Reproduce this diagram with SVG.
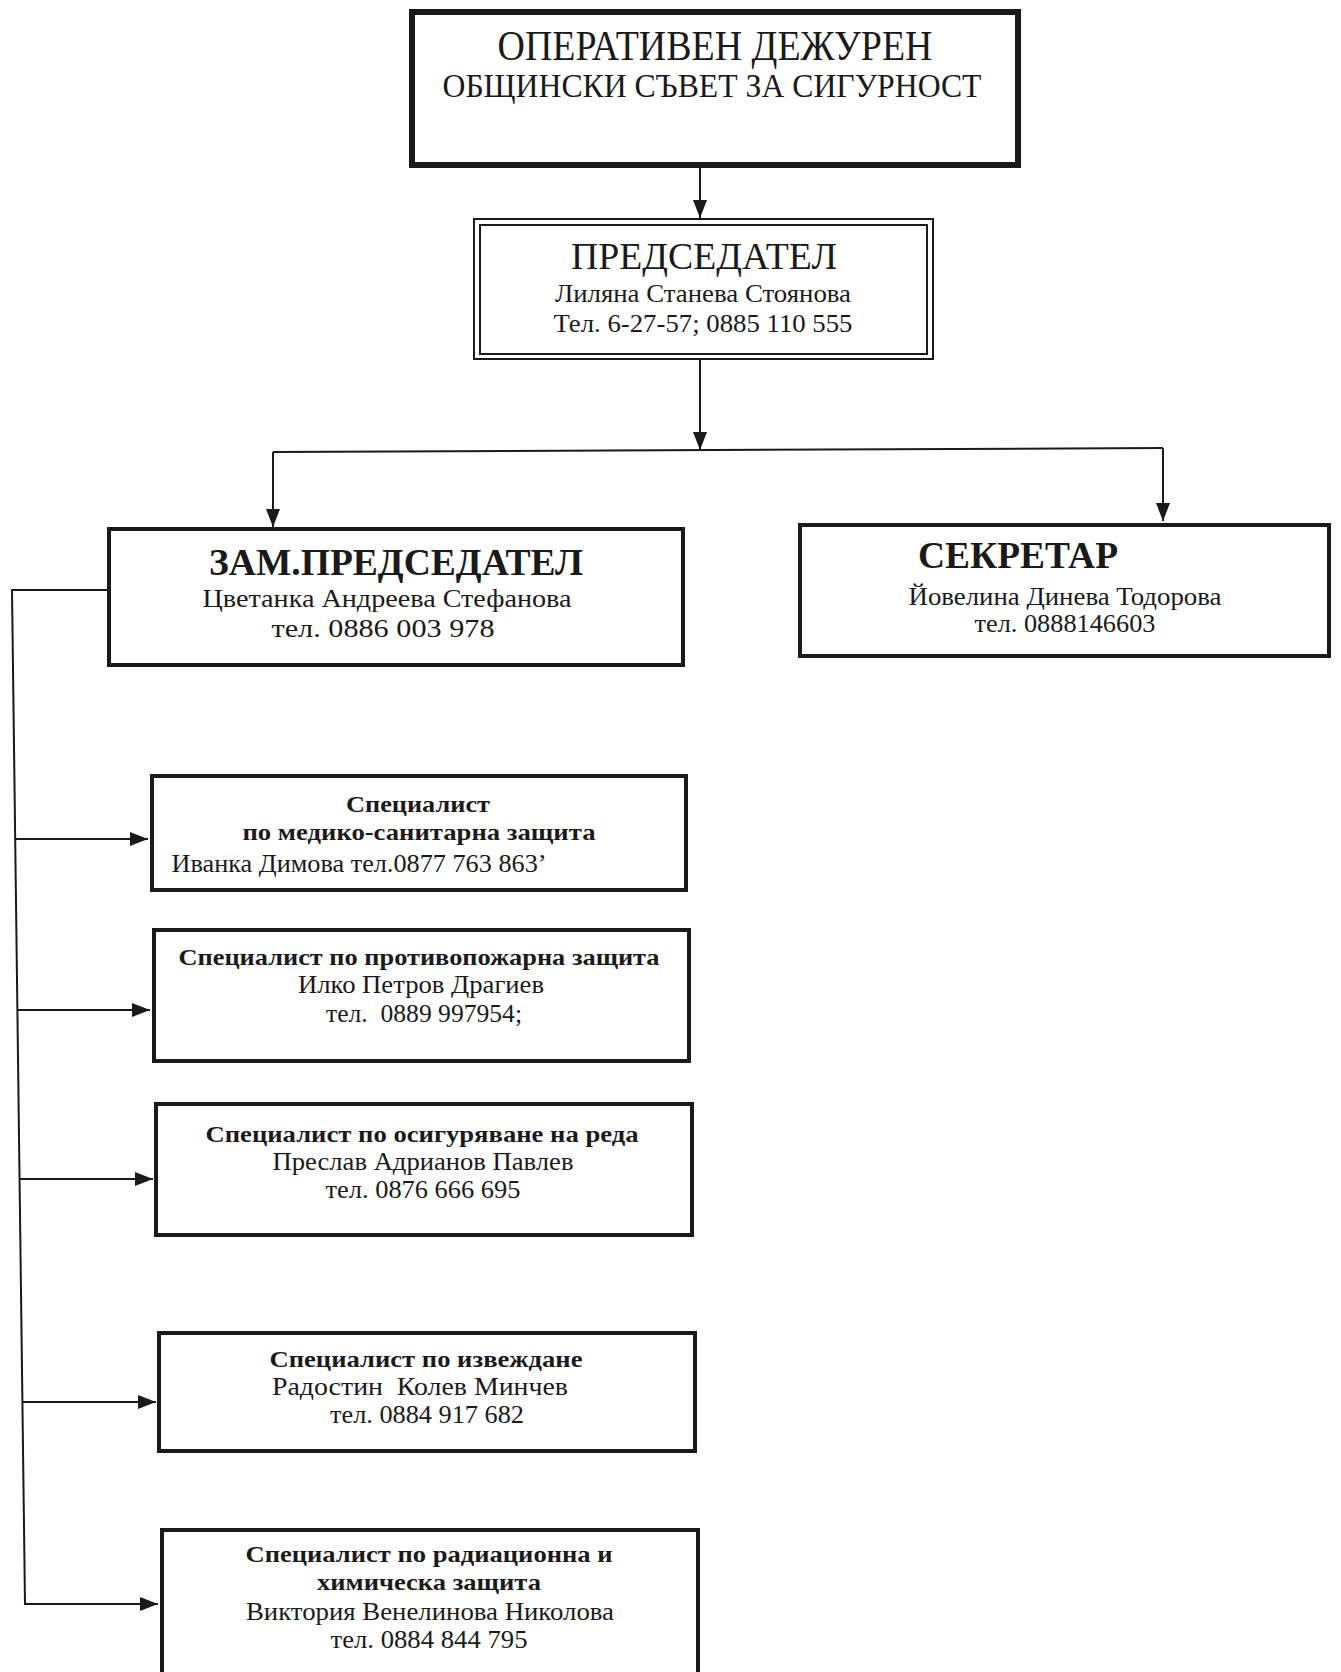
<svg xmlns="http://www.w3.org/2000/svg" width="1341" height="1672" viewBox="0 0 1341 1672">
<style>
text{font-family:"Liberation Serif","Times New Roman",serif;fill:#1a1a1a;text-anchor:middle}
.b{font-weight:bold}
.box{fill:none;stroke:#1a1a1a;stroke-width:4}
.con{fill:none;stroke:#1a1a1a;stroke-width:2}
</style>
<defs>
<marker id="ah" markerUnits="userSpaceOnUse" markerWidth="18" markerHeight="14" refX="18" refY="7" orient="auto">
<path d="M0,0 L18,7 L0,14 z" fill="#1a1a1a"/>
</marker>
</defs>
<rect width="1341" height="1672" fill="#ffffff"/>
<g id="connectors">
<path class="con" d="M700,168 V218" marker-end="url(#ah)"/>
<path class="con" d="M700,360 V450" marker-end="url(#ah)"/>
<path class="con" d="M273,452 L1163,448"/>
<path class="con" d="M273,452 V527" marker-end="url(#ah)"/>
<path class="con" d="M1163,448 V521" marker-end="url(#ah)"/>
<path class="con" d="M107,590 H12 L25,1604 H158" marker-end="url(#ah)"/>
<path class="con" d="M15,839 H148" marker-end="url(#ah)"/>
<path class="con" d="M17,1010 H150" marker-end="url(#ah)"/>
<path class="con" d="M19,1179 H153" marker-end="url(#ah)"/>
<path class="con" d="M22,1402 H156" marker-end="url(#ah)"/>
</g>
<g id="node-operative">
<rect x="412" y="12" width="606" height="153" fill="none" stroke="#1a1a1a" stroke-width="6"/>
<text x="715" y="60" font-size="42" textLength="435" lengthAdjust="spacingAndGlyphs">ОПЕРАТИВЕН ДЕЖУРЕН</text>
<text x="712" y="97" font-size="34" textLength="539" lengthAdjust="spacingAndGlyphs">ОБЩИНСКИ СЪВЕТ ЗА СИГУРНОСТ</text>
</g>
<g id="node-chairman">
<rect x="474" y="219" width="459" height="140" fill="none" stroke="#1a1a1a" stroke-width="2"/>
<rect x="480" y="225" width="447" height="129" fill="none" stroke="#1a1a1a" stroke-width="2"/>
<text x="704" y="269" font-size="38" textLength="266" lengthAdjust="spacingAndGlyphs">ПРЕДСЕДАТЕЛ</text>
<text x="703" y="302" font-size="26" textLength="296" lengthAdjust="spacingAndGlyphs">Лиляна Станева Стоянова</text>
<text x="703" y="332" font-size="26" textLength="299" lengthAdjust="spacingAndGlyphs">Тел. 6-27-57; 0885 110 555</text>
</g>
<g id="node-deputy">
<rect class="box" x="109" y="529" width="574" height="136"/>
<text class="b" x="396" y="575" font-size="37" textLength="374" lengthAdjust="spacingAndGlyphs">ЗАМ.ПРЕДСЕДАТЕЛ</text>
<text x="387" y="607" font-size="26" textLength="369" lengthAdjust="spacingAndGlyphs">Цветанка Андреева Стефанова</text>
<text x="383" y="637" font-size="26" textLength="223" lengthAdjust="spacingAndGlyphs">тел. 0886 003 978</text>
</g>
<g id="node-secretary">
<rect class="box" x="800" y="525" width="529" height="131"/>
<text class="b" x="1018" y="568" font-size="37" textLength="200" lengthAdjust="spacingAndGlyphs">СЕКРЕТАР</text>
<text x="1065" y="605" font-size="26" textLength="313" lengthAdjust="spacingAndGlyphs">Йовелина Динева Тодорова</text>
<text x="1065" y="632" font-size="26" textLength="181" lengthAdjust="spacingAndGlyphs">тел. 0888146603</text>
</g>
<g id="node-medical">
<rect class="box" x="152" y="776" width="534" height="114"/>
<text class="b" x="418" y="812" font-size="24" textLength="144" lengthAdjust="spacingAndGlyphs">Специалист</text>
<text class="b" x="419" y="840" font-size="24" textLength="353" lengthAdjust="spacingAndGlyphs">по медико-санитарна защита</text>
<text x="359" y="872" font-size="25" textLength="375" lengthAdjust="spacingAndGlyphs">Иванка Димова тел.0877 763 863ʼ</text>
</g>
<g id="node-fire">
<rect class="box" x="154" y="930" width="535" height="131"/>
<text class="b" x="419" y="965" font-size="24" textLength="481" lengthAdjust="spacingAndGlyphs">Специалист по противопожарна защита</text>
<text x="421" y="993" font-size="25" textLength="246" lengthAdjust="spacingAndGlyphs">Илко Петров Драгиев</text>
<text x="424" y="1022" font-size="25" textLength="196" lengthAdjust="spacingAndGlyphs" xml:space="preserve">тел.  0889 997954;</text>
</g>
<g id="node-order">
<rect class="box" x="156" y="1104" width="536" height="131"/>
<text class="b" x="422" y="1142" font-size="24" textLength="433" lengthAdjust="spacingAndGlyphs">Специалист по осигуряване на реда</text>
<text x="423" y="1170" font-size="25" textLength="301" lengthAdjust="spacingAndGlyphs">Преслав Адрианов Павлев</text>
<text x="423" y="1198" font-size="25" textLength="195" lengthAdjust="spacingAndGlyphs">тел. 0876 666 695</text>
</g>
<g id="node-evacuation">
<rect class="box" x="159" y="1333" width="536" height="118"/>
<text class="b" x="426" y="1367" font-size="24" textLength="313" lengthAdjust="spacingAndGlyphs">Специалист по извеждане</text>
<text x="420" y="1395" font-size="25" textLength="296" lengthAdjust="spacingAndGlyphs" xml:space="preserve">Радостин  Колев Минчев</text>
<text x="427" y="1423" font-size="25" textLength="194" lengthAdjust="spacingAndGlyphs">тел. 0884 917 682</text>
</g>
<g id="node-radiation">
<rect class="box" x="162" y="1530" width="536" height="160"/>
<text class="b" x="429" y="1562" font-size="24" textLength="367" lengthAdjust="spacingAndGlyphs">Специалист по радиационна и</text>
<text class="b" x="429" y="1590" font-size="24" textLength="224" lengthAdjust="spacingAndGlyphs">химическа защита</text>
<text x="430" y="1620" font-size="25" textLength="368" lengthAdjust="spacingAndGlyphs">Виктория Венелинова Николова</text>
<text x="429" y="1648" font-size="25" textLength="197" lengthAdjust="spacingAndGlyphs">тел. 0884 844 795</text>
</g>
</svg>
